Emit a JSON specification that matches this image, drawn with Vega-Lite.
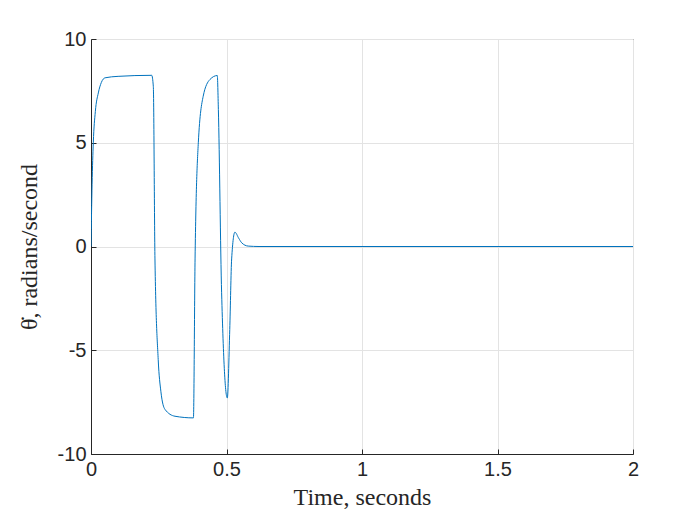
{"$schema":"https://vega.github.io/schema/vega-lite/v6.json","width":542,"height":415,"padding":{"left":91,"top":39,"right":67,"bottom":71},"autosize":"none","background":"white",
"data":{"values":[{"t":0,"v":0},{"t":0.004,"v":3},{"t":0.0085,"v":5.0},{"t":0.016,"v":6.5},{"t":0.027,"v":7.4},{"t":0.038,"v":7.9},{"t":0.052,"v":8.13},{"t":0.1,"v":8.2},{"t":0.224,"v":8.25},{"t":0.23,"v":7.7},{"t":0.236,"v":-0.6},{"t":0.248,"v":-5.45},{"t":0.258,"v":-7.0},{"t":0.273,"v":-7.85},{"t":0.31,"v":-8.18},{"t":0.378,"v":-8.26},{"t":0.384,"v":-0.6},{"t":0.396,"v":5.0},{"t":0.414,"v":7.24},{"t":0.439,"v":8.05},{"t":0.466,"v":8.24},{"t":0.47,"v":6.6},{"t":0.482,"v":-2.23},{"t":0.503,"v":-7.3},{"t":0.512,"v":-4},{"t":0.519,"v":-0.6},{"t":0.531,"v":0.69},{"t":0.545,"v":0.4},{"t":0.556,"v":0.18},{"t":0.58,"v":0.02},{"t":0.62,"v":0},{"t":2,"v":0}]},
"mark":{"type":"line","color":"#0072BD","strokeWidth":1,"clip":true,"interpolate":"monotone"},
"encoding":{"x":{"field":"t","type":"quantitative","scale":{"domain":[0,2],"nice":false},"axis":{"values":[0,0.5,1,1.5,2],"labelExpr":"toString(datum.value)","title":"Time, seconds","titleFont":"Liberation Serif","titleFontSize":24,"titleFontWeight":"normal","titleColor":"#262626","titlePadding":6}},
"y":{"field":"v","type":"quantitative","scale":{"domain":[-10,10],"nice":false},"axis":{"values":[-10,-5,0,5,10],"labelExpr":"toString(datum.value)","title":"θ̇, radians/second","titleFont":"Liberation Serif","titleFontSize":24,"titleFontWeight":"normal","titleColor":"#262626","titlePadding":16}}},
"config":{"axis":{"labelFont":"Liberation Sans","labelFontSize":20,"labelColor":"#262626","labelFlush":false,"domainColor":"#262626","tickColor":"#262626","tickSize":-5,"gridColor":"#e3e3e3","labelPadding":10},"view":{"stroke":"#262626"}}}
